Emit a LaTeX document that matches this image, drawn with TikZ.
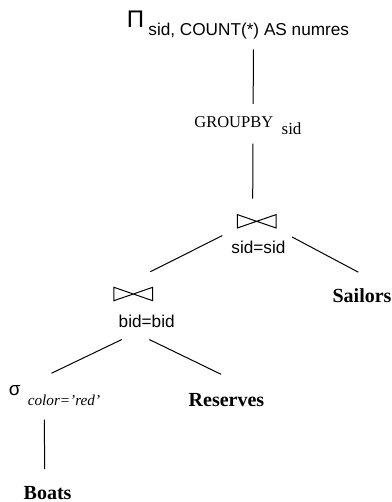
\documentclass[tikz,border=0pt]{standalone}
\usepackage{fontspec}
\setmainfont{Liberation Serif}
\setsansfont{Liberation Sans}
\tikzset{
  attr/.style={inner sep=0pt, anchor=base west, font=\sffamily\fontsize{8.6pt}{10pt}\selectfont},
  rel/.style={inner sep=0pt, anchor=base west, font=\bfseries\fontsize{10pt}{12pt}\selectfont},
  opname/.style={inner sep=0pt, anchor=base west, font=\fontsize{8.25pt}{10pt}\selectfont},
  opsym/.style={inner sep=0pt, anchor=base, font=\sffamily\fontsize{12pt}{14pt}\selectfont},
  selcond/.style={inner sep=0pt, anchor=base west, font=\itshape\fontsize{7.6pt}{9pt}\selectfont},
  joinop/.style={inner sep=0pt, minimum width=19pt, minimum height=6.3pt},
  edge/.style={draw, line width=0.5pt},
}
\newcommand{\drawbowtie}[1]{%
  \draw[edge] (#1.south west) -- (#1.north west) -- (#1.south east) -- (#1.north east) -- cycle;}

\begin{document}
\begin{tikzpicture}[x=0.5pt, y=-0.5pt]
  \useasboundingbox (0,0) rectangle (391,502);
  % projection
  \node[opsym] (proj) at (135.5,28) {Π};
  \node[attr] (projlist) at (148,36) {sid, COUNT(*) AS numres};
  % grouping
  \node[opname] (grp) at (194,128) {GROUPBY\hspace{4.2pt}\raisebox{-3.5pt}{\fontsize{8.5pt}{10pt}\selectfont sid}};
  % joins
  \node[joinop] (join1) at (256.7,221.3) {};
  \drawbowtie{join1}
  \node[attr] (cond1) at (231,253) {sid=sid};
  \node[joinop] (join2) at (133.3,294) {};
  \drawbowtie{join2}
  \node[attr] (cond2) at (118.3,327) {bid=bid};
  % selection
  \node[opsym, anchor=base west, font=\sffamily\fontsize{9.5pt}{11pt}\selectfont] (sel) at (8.5,395) {σ};
  \node[selcond] (selcond) at (27.5,405) {color='red'};
  % relations
  \node[rel] (sailors) at (332.2,302.7) {Sailors};
  \node[rel] (reserves) at (188.3,406) {Reserves};
  \node[rel] (boats) at (23.3,499) {Boats};
  % tree edges
  \draw[edge] ([xshift=2.35pt,yshift=-4.7pt]projlist.south) -- ([xshift=2.6pt,yshift=6.4pt]grp.north);
  \draw[edge] ([xshift=2.5pt,yshift=-4pt]grp.south) -- ([xshift=-2pt,yshift=8pt]join1.north);
  \draw[edge] ([xshift=-7.5pt,yshift=-3.8pt]join1.south west) -- ([xshift=-1.15pt,yshift=7.8pt]join2.north east);
  \draw[edge] ([xshift=8pt,yshift=-4.5pt]join1.south east) -- ([xshift=-1.85pt,yshift=8.1pt]sailors.north);
  \draw[edge] ([xshift=1.7pt,yshift=-6pt]cond2.south west) -- ([xshift=-6.25pt,yshift=10.4pt]selcond.north);
  \draw[edge] ([xshift=1.35pt,yshift=-6pt]cond2.south) -- ([xshift=-2.68pt,yshift=9.1pt]reserves.north);
  \draw[edge] ([xshift=8.4pt,yshift=-7pt]selcond.south west) -- ([xshift=-1.45pt,yshift=8.2pt]boats.north);
\end{tikzpicture}
\end{document}
